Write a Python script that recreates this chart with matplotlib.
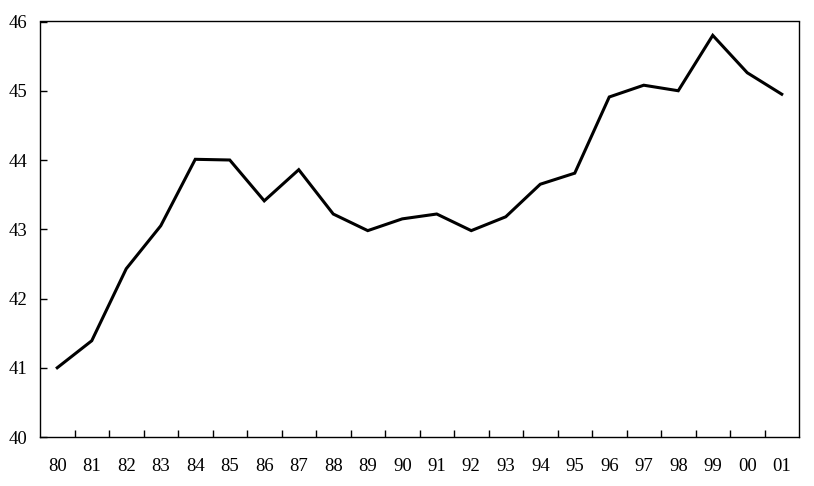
import numpy as np
import matplotlib.pyplot as plt

years = ['80', '81', '82', '83', '84', '85', '86', '87', '88', '89', '90',
         '91', '92', '93', '94', '95', '96', '97', '98', '99', '00', '01']
values = [41.00, 41.39, 42.43, 43.05, 44.01, 44.00, 43.41, 43.86, 43.22, 42.98, 43.15,
          43.22, 42.98, 43.18, 43.65, 43.81, 44.91, 45.08, 45.00, 45.80, 45.26, 44.95]

plt.rcParams['font.family'] = ['Liberation Serif', 'DejaVu Serif']

fig = plt.figure(figsize=(8.14, 4.86), dpi=100)
ax = fig.add_axes([40 / 814, 49 / 486, 759 / 814, 415.5 / 486])

x = np.arange(len(years))
ax.plot(x, values, color='black', linewidth=2.2, solid_joinstyle='miter')

ax.set_xlim(-0.5, len(years) - 0.5)
ax.set_ylim(40, 46)

# labels at category centres, tick marks on the boundaries
ax.set_xticks(x)
ax.set_xticklabels(years, fontsize=13.5)
ax.tick_params(axis='x', which='major', length=0, pad=15)
ax.set_xticks(np.arange(0.5, len(years) - 1, 1), minor=True)
ax.tick_params(axis='x', which='minor', direction='in', length=5, width=1)

ax.set_yticks(range(40, 47))
ax.tick_params(axis='y', direction='in', length=5, width=1, pad=9, labelsize=13.5)
for t in ax.yaxis.get_major_ticks():
    if t.get_loc() in (40, 46):
        t.tick1line.set_visible(False)

for side in ax.spines.values():
    side.set_linewidth(1)

fig.savefig('out.png', dpi=100)
